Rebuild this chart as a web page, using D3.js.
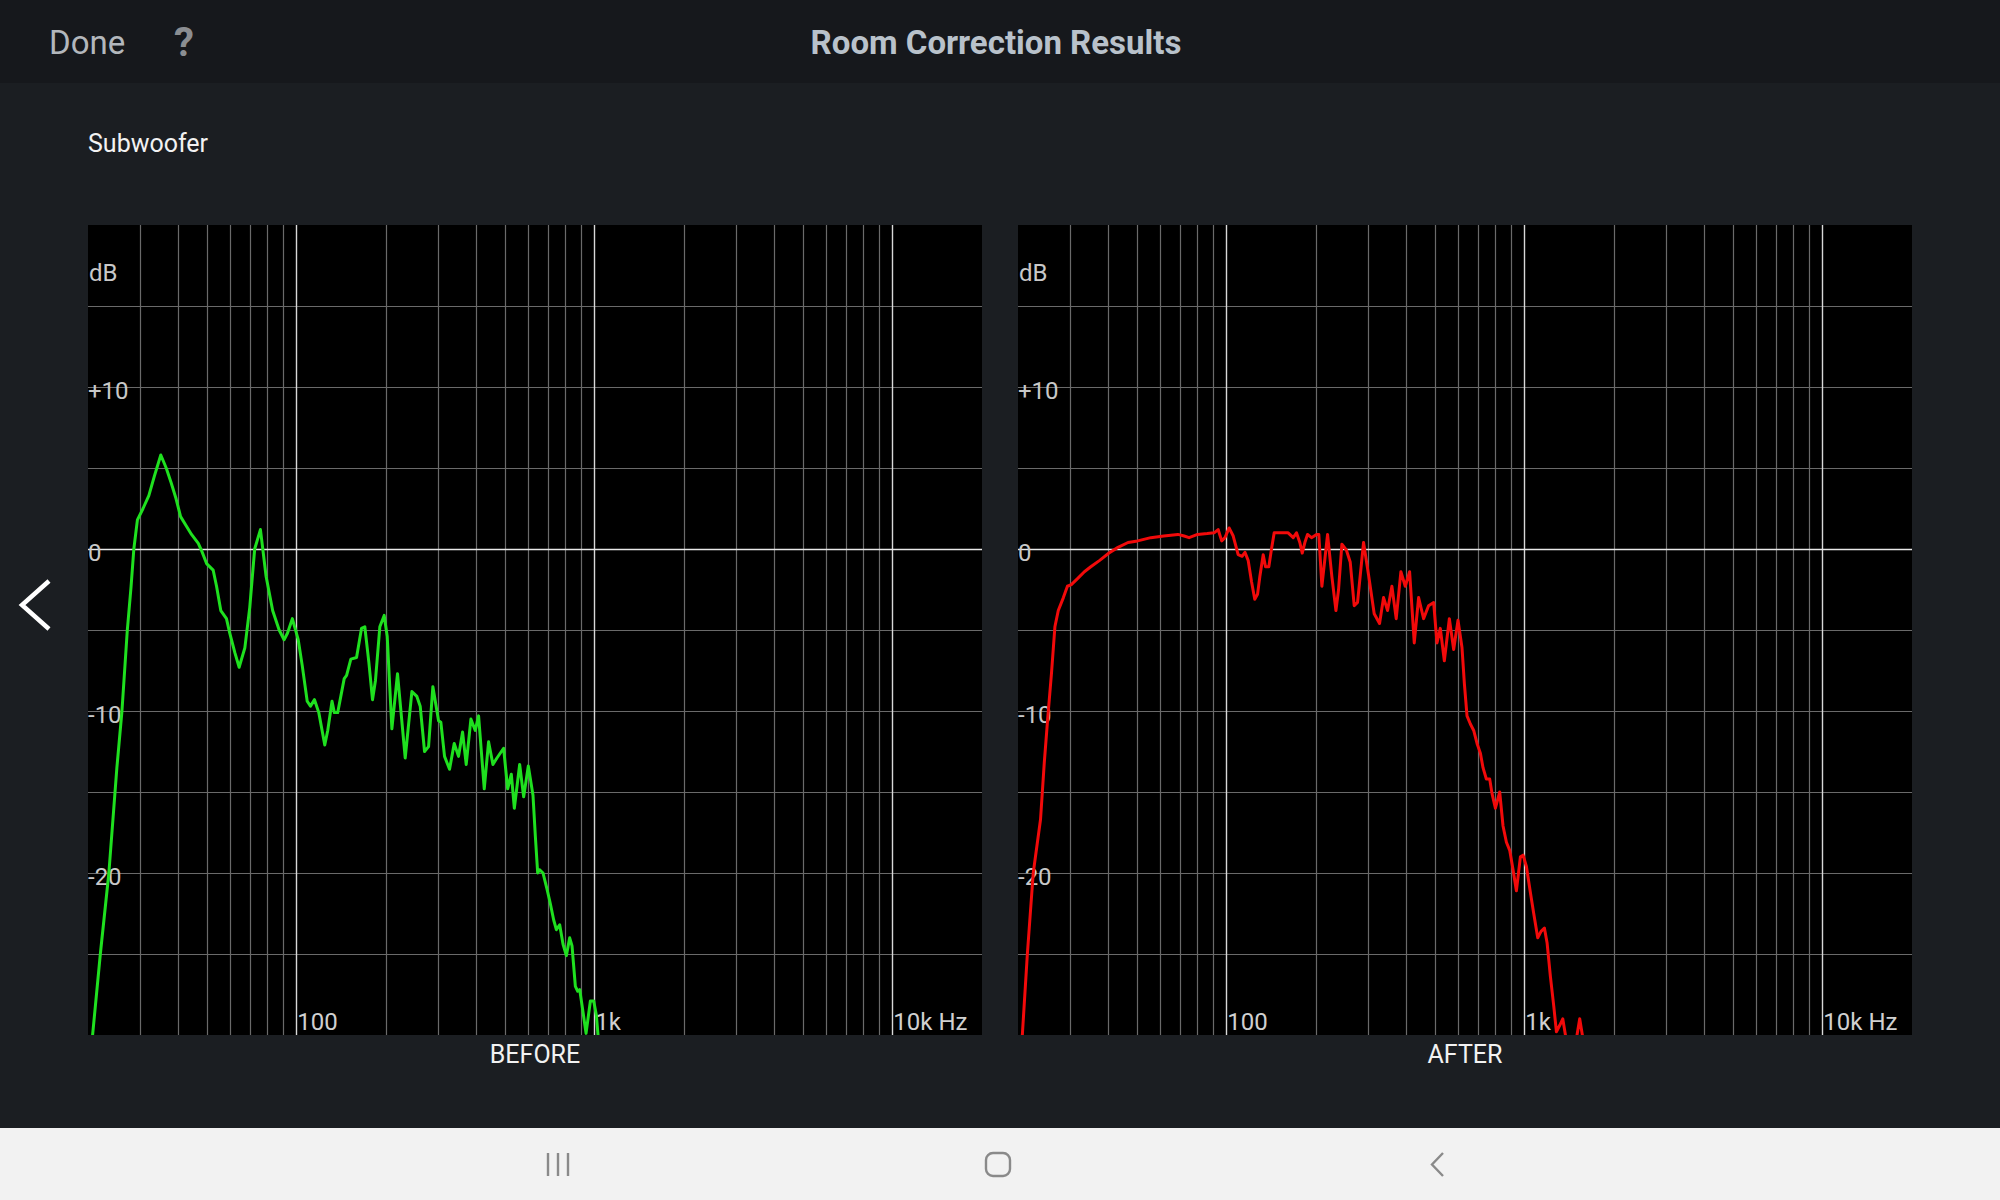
<!DOCTYPE html>
<html>
<head>
<meta charset="utf-8">
<script src="https://cdn.jsdelivr.net/npm/d3@7"></script>
<style>
  html, body { margin: 0; padding: 0; background: #1b1e22; overflow: hidden; }
  svg { display: block; font-family: Roboto, "Noto Sans", sans-serif; }
</style>
</head>
<body>
<div class="chart"></div>
<script>
// measured response, before correction (Hz / dB)
const beforeFreq = [20.6, 22, 23.5, 25, 26.0, 27.1, 27.9, 28.5, 29.3, 30.6, 32.0, 33.4, 35.1, 36.6, 38.0, 39.5, 40.9, 42.8, 44.5, 46.9,
  48.1, 50.0, 52.6, 54.0, 55.8, 58.3, 59.8, 62.2, 64.3, 67.2, 69.8, 72.5, 75.8, 79.2, 83.3, 87.6, 91.0, 93.4, 97.0, 101.5,
  104.7, 108.8, 111.6, 115.1, 119, 124.6, 127.5, 131.8, 134.2, 137.7, 144.8, 147.5, 152.4, 159.3, 165.5, 169.8, 175.2, 180.2, 184.4, 190.7,
  197.2, 201.9, 209.3, 218.6, 232, 244.3, 253.9, 260.5, 269.4, 277.9, 287.3, 300.2, 305.6, 314.4, 326.8, 338.8, 350.3, 361.4, 371.7, 385.4,
  398.6, 409, 427.3, 441.8, 456.9, 471.3, 496.3, 512, 526.7, 539.1, 561.8, 579.4, 600.6, 622.7, 634, 645.7, 655.7, 672.8, 694, 712.1,
  730.7, 745.9, 765.4, 785.5, 805.9, 826.9, 841.9, 864, 879.8, 893.5, 916.7, 938.3, 970.2, 995.6, 1016.4, 1040]
const beforeDb = [-30.5, -25, -20, -13.5, -10.0, -5.0, -2.3, 0, 1.8, 2.5, 3.3, 4.5, 5.8, 5.0, 4.1, 3.1, 2.0, 1.4, 0.9, 0.35,
  -0.1, -0.9, -1.3, -2.3, -3.8, -4.3, -5.2, -6.4, -7.3, -6.1, -3.6, 0, 1.2, -1.7, -3.8, -5.0, -5.6, -5.2, -4.3, -5.6,
  -7.2, -9.4, -9.7, -9.3, -10.1, -12.1, -11.2, -9.4, -10.1, -10.1, -8.0, -7.8, -6.8, -6.7, -4.9, -4.8, -7.0, -9.3, -8.1, -4.8,
  -4.1, -5.4, -11.1, -7.7, -12.9, -8.8, -9.1, -9.7, -12.5, -12.2, -8.5, -10.6, -10.7, -12.8, -13.6, -12.0, -12.8, -11.3, -13.3, -10.5,
  -11.2, -10.3, -14.8, -11.9, -13.3, -12.9, -12.3, -14.8, -13.9, -16.0, -13.3, -15.3, -13.4, -15.2, -17.7, -20.0, -19.8, -20.0, -21.0, -21.9,
  -22.9, -23.5, -23.2, -24.4, -25.1, -24.0, -24.5, -27.0, -27.3, -27.2, -28.6, -29.9, -27.9, -27.9, -28.8, -31]

// measured response, after correction (Hz / dB)
const afterFreq = [20.6, 21.5, 22.5, 23.8, 24.5, 25.2, 25.9, 26.6, 27.3, 28.4, 29.3, 30.2, 31.8, 33.4, 35.1, 37.6, 40.4, 43.3, 46.8, 50.4,
  55.8, 61.7, 68.8, 72.2, 75.0, 80.1, 86.3, 91.0, 93.9, 96.5, 99, 102.2, 105.5, 109.6, 113, 115.5, 118.4, 121.5, 124.6, 127.3,
  129.6, 133.0, 135.4, 138.9, 141.8, 144.8, 153.2, 161.3, 167.7, 172.0, 176.5, 179.8, 183.5, 187.3, 193.2, 200.8, 204.4, 209.3, 218.7, 226.1,
  233.3, 238.1, 244.3, 252.7, 260.5, 268.7, 275.7, 288.8, 300.2, 313.6, 326.8, 337.1, 347.7, 359.5, 371.7, 385.4, 398.6, 412.2, 427.3, 441.9,
  459.3, 477.3, 496.4, 509.3, 522.6, 539.1, 560.4, 579.4, 599.2, 618, 629.3, 642.4, 659.2, 676.4, 694.1, 712.2, 726.9, 745.9, 765.4, 779.4,
  799.9, 826.9, 848.5, 871, 893.5, 916.8, 940.8, 970.3, 990.5, 1016.4, 1048.2, 1075.6, 1109.4, 1138.3, 1168.1, 1192.4, 1223.6, 1255.5, 1281.7, 1315.2,
  1346.2, 1374.1, 1400, 1480, 1503, 1534.5, 1566.2, 1590]
const afterDb = [-30.5, -25, -20, -16.7, -13.2, -10.3, -7.7, -4.8, -3.8, -3.0, -2.3, -2.2, -1.8, -1.4, -1.1, -0.7, -0.25, 0.1, 0.4, 0.5,
  0.7, 0.8, 0.9, 0.8, 0.7, 0.9, 0.95, 1.0, 1.2, 0.5, 0.7, 1.3, 0.8, -0.35, -0.45, -0.2, -0.7, -2.0, -3.1, -2.8,
  -1.7, -0.35, -1.1, -1.1, 0, 1.0, 1.0, 1.0, 0.7, 1.0, 0.4, -0.25, 0.4, 0.9, 0.7, 0.9, 0.9, -2.3, 0.9, -1.7,
  -3.8, -2.5, 0.3, -0.05, -0.8, -3.5, -3.3, 0.4, -1.6, -4.0, -4.6, -3.0, -3.8, -2.3, -4.3, -1.4, -2.3, -1.4, -5.8, -3.0,
  -4.3, -3.5, -3.3, -5.8, -4.9, -6.9, -4.3, -6.2, -4.4, -6.1, -8.3, -10.3, -10.8, -11.2, -12.0, -12.6, -13.5, -14.2, -14.2, -15.1,
  -16.0, -15.0, -17.1, -18.1, -18.6, -19.8, -21.1, -19.0, -18.9, -19.6, -21.2, -22.5, -24.0, -23.6, -23.4, -24.3, -26.4, -28.2, -29.8, -29.4,
  -29.0, -30, -31, -31, -30, -29.0, -30, -31.5]

// grid + tick labels
const minorFreqs = [30, 40, 50, 60, 70, 80, 90, 200, 300, 400, 500, 600, 700, 800, 900,
  2000, 3000, 4000, 5000, 6000, 7000, 8000, 9000]
const majorFreqs = [100, 1000, 10000]
const freqLabels = ["100", "1k", "10k Hz"]
const dbLines = [-25, -20, -15, -10, -5, 5, 10, 15]
const dbTicks = [10, 0, -10, -20]
const dbLabels = ["+10", "0", "-10", "-20"]

const panels = [
  {name: "BEFORE", freq: beforeFreq, db: beforeDb, color: "#1fe01f", left: 88},
  {name: "AFTER", freq: afterFreq, db: afterDb, color: "#f20a0a", left: 1018}
]

const W = 2000, H = 1200
const chartTop = 225
const width = 894, height = 810

const svg = d3.select(".chart").append("svg")
    .attr("width", W)
    .attr("height", H)

// background bands
svg.append("rect").attr("width", W).attr("height", H).attr("fill", "#1b1e22")
svg.append("rect").attr("width", W).attr("height", 83).attr("fill", "#16181c")
svg.append("rect").attr("y", 1128).attr("width", W).attr("height", 72).attr("fill", "#f2f2f2")

// header
svg.append("text")
    .attr("x", 49).attr("y", 54)
    .attr("font-size", 33)
    .attr("fill", "#b3b7bc")
    .text("Done")
svg.append("text")
    .attr("x", 174).attr("y", 56)
    .attr("font-size", 40)
    .attr("font-weight", "bold")
    .attr("fill", "#8b8e92")
    .text("?")
svg.append("text")
    .attr("x", 996).attr("y", 54)
    .attr("text-anchor", "middle")
    .attr("font-size", 33)
    .attr("font-weight", "bold")
    .attr("fill", "#b9c2cb")
    .text("Room Correction Results")

svg.append("text")
    .attr("x", 88).attr("y", 152)
    .attr("font-size", 25)
    .attr("fill", "#f2f2f2")
    .text("Subwoofer")

// left pager arrow
svg.append("path")
    .attr("d", "M49,581 L22,605 L49,629")
    .attr("fill", "none")
    .attr("stroke", "#ffffff")
    .attr("stroke-width", 4.5)

const xScale = d3.scaleLog().domain([20, 20000]).range([0, width])
const yScale = d3.scaleLinear().domain([-30, 20]).range([height, 0])

const line = d3.line()
    .x(d => xScale(d[0]))
    .y(d => yScale(d[1]))

panels.forEach((p, i) => {
    let g = svg.append("g")
        .attr("transform", `translate(${p.left}, ${chartTop})`)

    g.append("rect")
        .attr("width", width)
        .attr("height", height)
        .attr("fill", "#000")

    g.append("clipPath").attr("id", "clip" + i)
        .append("rect").attr("width", width).attr("height", height)

    // vertical grid
    g.selectAll(".vminor")
        .data(minorFreqs)
        .enter().append("line")
        .attr("x1", d => Math.round(xScale(d)) + 0.5)
        .attr("x2", d => Math.round(xScale(d)) + 0.5)
        .attr("y1", 0).attr("y2", height)
        .attr("stroke", "#6a6a6a")
        .attr("stroke-width", 1.2)

    // horizontal grid
    g.selectAll(".hminor")
        .data(dbLines)
        .enter().append("line")
        .attr("x1", 0).attr("x2", width)
        .attr("y1", d => Math.round(yScale(d)) + 0.5)
        .attr("y2", d => Math.round(yScale(d)) + 0.5)
        .attr("stroke", "#6a6a6a")
        .attr("stroke-width", 1.2)

    g.selectAll(".vmajor")
        .data(majorFreqs)
        .enter().append("line")
        .attr("x1", d => Math.round(xScale(d)) + 0.5)
        .attr("x2", d => Math.round(xScale(d)) + 0.5)
        .attr("y1", 0).attr("y2", height)
        .attr("stroke", "#d8d8d8")
        .attr("stroke-width", 1.4)

    g.append("line")
        .attr("x1", 0).attr("x2", width)
        .attr("y1", Math.round(yScale(0)) + 0.5)
        .attr("y2", Math.round(yScale(0)) + 0.5)
        .attr("stroke", "#e8e8e8")
        .attr("stroke-width", 1.6)

    // y labels
    g.append("text")
        .attr("x", 1).attr("y", yScale(15) - 25)
        .attr("font-size", 24)
        .attr("fill", "#c8c8c8")
        .text("dB")

    g.selectAll(".ylab")
        .data(dbTicks)
        .enter().append("text")
        .attr("x", 0)
        .attr("y", d => yScale(d) + 11.5)
        .attr("font-size", 24)
        .attr("fill", "#c8c8c8")
        .text((d, j) => dbLabels[j])

    // x labels
    g.selectAll(".xlab")
        .data(majorFreqs)
        .enter().append("text")
        .attr("x", d => xScale(d) + 1)
        .attr("y", height - 5.5)
        .attr("font-size", 24)
        .attr("fill", "#d0d0d0")
        .text((d, j) => freqLabels[j])

    // response curve
    g.append("path")
        .datum(p.freq.map((f, j) => [f, p.db[j]]))
        .attr("clip-path", `url(#clip${i})`)
        .attr("d", line)
        .attr("fill", "none")
        .attr("stroke", p.color)
        .attr("stroke-width", 3)
        .attr("stroke-linejoin", "round")

    g.append("text")
        .attr("x", width / 2)
        .attr("y", height + 28)
        .attr("text-anchor", "middle")
        .attr("font-size", 25)
        .attr("fill", "#f2f2f2")
        .text(p.name)
})

// android nav bar
let nav = svg.append("g").attr("stroke", "#8a8a8a").attr("fill", "none").attr("stroke-width", 2.4)
;[548, 558, 568].forEach(x => {
    nav.append("line").attr("x1", x).attr("x2", x).attr("y1", 1153).attr("y2", 1176)
})
nav.append("rect")
    .attr("x", 986).attr("y", 1153)
    .attr("width", 24).attr("height", 23)
    .attr("rx", 7)
nav.append("path").attr("d", "M1443,1153 L1432,1164.5 L1443,1176")
</script>
</body>
</html>
